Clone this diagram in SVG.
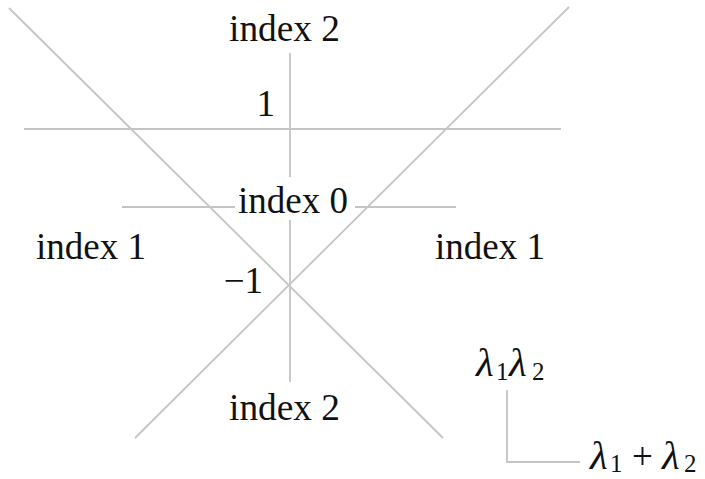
<svg xmlns="http://www.w3.org/2000/svg" width="705" height="479" viewBox="0 0 705 479">
<style>
.ln{stroke:#c4c4c4;stroke-width:1.8;fill:none}
.t{font-family:"Liberation Serif","DejaVu Serif",serif;font-size:37px;fill:#111}
.s{font-size:25px}
.g{font-style:italic;font-size:41px}
</style>
<rect width="705" height="479" fill="#fff"/>
<g id="connectors">
<line class="ln" x1="9" y1="8" x2="443" y2="438"/>
<line class="ln" x1="569" y1="7" x2="135" y2="438"/>
<line class="ln" x1="290" y1="53" x2="290" y2="177"/>
<line class="ln" x1="290" y1="220" x2="290" y2="382"/>
<line class="ln" x1="24" y1="129" x2="561" y2="129"/>
<line class="ln" x1="122" y1="207" x2="235" y2="207"/>
<line class="ln" x1="355" y1="207" x2="456" y2="207"/>
<polyline class="ln" points="507,390 507,462 580,462"/>
</g>
<g id="index2top"><text class="t" x="229" y="41" textLength="111" lengthAdjust="spacingAndGlyphs">index 2</text></g>
<g id="one"><text class="t" x="275" y="116" text-anchor="end">1</text></g>
<g id="index0"><text class="t" x="238" y="213" textLength="110" lengthAdjust="spacingAndGlyphs">index 0</text></g>
<g id="index1left"><text class="t" x="36" y="259" textLength="110" lengthAdjust="spacingAndGlyphs">index 1</text></g>
<g id="index1right"><text class="t" x="435" y="259" textLength="110" lengthAdjust="spacingAndGlyphs">index 1</text></g>
<g id="minusone"><text class="t" x="263" y="293" text-anchor="end">−1</text></g>
<g id="index2bottom"><text class="t" x="229" y="420" textLength="111" lengthAdjust="spacingAndGlyphs">index 2</text></g>
<g id="product"><text class="t"><tspan class="g" x="476" y="376">λ</tspan><tspan class="s" x="496" y="380">1</tspan><tspan class="g" x="509" y="376">λ</tspan><tspan class="s" x="532" y="380">2</tspan></text></g>
<g id="sum"><text class="t"><tspan class="g" x="590" y="469">λ</tspan><tspan class="s" x="610" y="472">1</tspan><tspan x="632" y="469">+</tspan><tspan class="g" x="662" y="469">λ</tspan><tspan class="s" x="684" y="472">2</tspan></text></g>
</svg>
